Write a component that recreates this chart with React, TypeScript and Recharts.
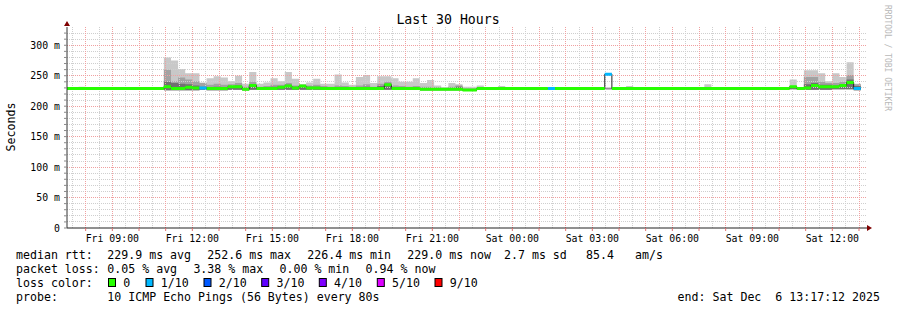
import React from "react";
import { ComposedChart, Area, Line, XAxis, YAxis, ReferenceLine } from "recharts";

// ---- data: 16-minute bins, first bin starts Fri 07:12 (minutes since Fri 00:00) ----
const BIN_FIRST_START_MIN = 432;
const BIN_MINUTES = 16;
const DOMAIN_START_H = 7.3; // Fri 07:18
const DOMAIN_END_H = 37.3; // Sat 13:18

const median = [
  229, 229, 229, 229, 229, 229, 229, 229,
  229, 229, 229, 229, 229, 229, 232, 229,
  229, 231, 230, 230, 229, 229, 229, 232,
  232, 228, 234, 229, 229, 229, 231, 233,
  230, 233, 230, 230, 229, 229, 229, 229,
  229, 229, 229, 229, 229, 235, 229, 229,
  229, 229, 228, 228, 228, 228, 228, 228,
  226.4, 226.4, 229, 229, 229, 229, 229, 229,
  229, 229, 229, 229, 229, 229, 229, 229,
  229, 229, 229, 229, 252.6, 229, 229, 229,
  229, 229, 229, 229, 229, 229, 229, 229,
  229, 229, 229, 229, 229, 229, 229, 229,
  229, 229, 229, 229, 229, 229, 232, 229,
  230, 234, 232, 232, 232, 234, 239, 229,
];

const lossCount = [
  0, 0, 0, 0, 0, 0, 0, 0,
  0, 0, 0, 0, 0, 0, 0, 0,
  0, 0, 0, 1, 0, 0, 0, 0,
  0, 0, 0, 0, 0, 0, 0, 0,
  0, 0, 0, 0, 0, 0, 0, 0,
  0, 0, 0, 0, 0, 0, 0, 0,
  0, 0, 0, 0, 0, 0, 0, 0,
  0, 0, 0, 0, 0, 0, 0, 0,
  0, 0, 0, 0, 1, 0, 0, 0,
  0, 0, 0, 0, 1, 0, 0, 0,
  0, 0, 0, 0, 0, 0, 0, 0,
  0, 0, 0, 0, 0, 0, 0, 0,
  0, 0, 0, 0, 0, 0, 0, 0,
  0, 0, 0, 0, 0, 0, 0, 1,
];

const smokeMin = [
  228, 228, 228, 228, 228, 228, 228, 228,
  228, 228, 228, 228, 228, 228, 226, 226,
  226, 226, 226, 227, 226, 226, 226, 227,
  227, 226, 227, 227, 227, 227, 227, 227,
  227, 227, 227, 227, 227, 227, 227, 227,
  227, 227, 227, 227, 227, 227, 227, 227,
  227, 227, 226, 226, 226, 226, 226, 226,
  225, 225, 228, 228, 228, 228, 228, 228,
  228, 228, 228, 228, 228, 228, 228, 228,
  228, 228, 228, 228, 228, 228, 228, 228,
  228, 228, 228, 228, 228, 228, 228, 228,
  228, 228, 228, 228, 228, 228, 228, 228,
  228, 228, 228, 228, 228, 228, 228, 228,
  227, 227, 227, 227, 228, 228, 228, 226,
];

const smokeDark = [
  229, 229, 229, 229, 229, 229, 229, 229,
  229, 229, 229, 229, 229, 229, 240, 238,
  237, 236, 234, 232, 231, 232, 231, 233,
  234, 230, 236, 230, 231, 232, 233, 235,
  232, 234, 232, 232, 231, 230, 231, 231,
  230, 231, 232, 230, 233, 237, 231, 231,
  230, 231, 230, 230, 229, 229, 230, 232,
  227, 227, 229, 229, 229, 229, 229, 229,
  229, 229, 229, 229, 229, 229, 229, 229,
  229, 229, 229, 229, 229, 229, 229, 229,
  229, 229, 229, 229, 229, 229, 229, 229,
  229, 229, 229, 229, 229, 229, 229, 229,
  229, 229, 229, 229, 229, 229, 231, 229,
  236, 238, 235, 235, 234, 236, 244, 233,
];

const smokeMid = [
  229, 229, 229, 229, 229, 229, 229, 229,
  229, 229, 229, 229, 229, 229, 260, 241,
  247, 244, 241, 238, 235, 237, 235, 236,
  238, 232, 240, 232, 233, 235, 235, 238,
  234, 235, 234, 235, 233, 232, 234, 233,
  232, 234, 236, 232, 237, 240, 234, 233,
  232, 233, 232, 232, 231, 230, 232, 234,
  229, 229, 230, 229, 229, 229, 229, 229,
  229, 229, 229, 229, 229, 229, 229, 229,
  229, 229, 229, 229, 229, 229, 229, 229,
  229, 229, 229, 229, 229, 229, 229, 229,
  229, 229, 229, 229, 229, 229, 229, 229,
  229, 229, 229, 229, 229, 229, 233, 230,
  248, 248, 240, 238, 238, 240, 251, 236,
];

const smokeMax = [
  230, 230, 232, 230, 230, 230, 230, 230,
  230, 230, 230, 231, 231, 230, 280, 275,
  261, 254, 254, 239, 246, 249, 247, 241,
  250, 237, 256, 237, 239, 246, 241, 256,
  245, 236, 239, 245, 237, 237, 252, 239,
  235, 248, 251, 238, 249, 249, 246, 240,
  240, 246, 238, 243, 234, 231, 238, 236,
  232, 232, 234, 230, 230, 233, 230, 230,
  230, 231, 230, 230, 230, 230, 230, 230,
  231, 230, 230, 231, 231, 230, 230, 233,
  231, 231, 230, 230, 230, 230, 230, 230,
  230, 230, 236, 230, 230, 230, 230, 231,
  230, 230, 230, 230, 230, 231, 244, 231,
  259, 259, 254, 241, 254, 248, 272, 237,
];

// x-axis: hours since Fri 00:00
const hourTicks = [8, 9, 10, 11, 12, 13, 14, 15, 16, 17, 18, 19, 20, 21, 22, 23, 24, 25, 26, 27, 28, 29, 30, 31, 32, 33, 34, 35, 36, 37];
const halfHourGrid = [7.5, 8.5, 9.5, 10.5, 11.5, 12.5, 13.5, 14.5, 15.5, 16.5, 17.5, 18.5, 19.5, 20.5, 21.5, 22.5, 23.5, 24.5, 25.5, 26.5, 27.5, 28.5, 29.5, 30.5, 31.5, 32.5, 33.5, 34.5, 35.5, 36.5];
const dayNames = ["Fri", "Sat"];
const yTicks = [0, 10, 20, 30, 40, 50, 60, 70, 80, 90, 100, 110, 120, 130, 140, 150, 160, 170, 180, 190, 200, 210, 220, 230, 240, 250, 260, 270, 280, 290, 300, 310, 320];
const yMajor = [50, 100, 150, 200, 250, 300];

const lossLevels = [0, 1, 2, 3, 4, 5, 9];
const lossLabels = ["0", "1/10", "2/10", "3/10", "4/10", "5/10", "9/10"];
const lossColors = ["#26ff00", "#00b8ff", "#0059ff", "#5e00ff", "#7e00ff", "#dd00ff", "#ff0000"];

const rttStats = ["229.9 ms avg", "252.6 ms max", "226.4 ms min", "229.0 ms now"];
const rttSd = "2.7 ms sd";
const rttAms = ["85.4", "am/s"];
const lossStats = ["0.05 % avg", "3.38 % max", "0.00 % min", "0.94 % now"];
const probeText = "10 ICMP Echo Pings (56 Bytes) every 80s";
const endText = "end: Sat Dec  6 13:17:12 2025";

// ---- table for recharts ----
const rows: any[] = [];
for (let k = 0; k < median.length; k++) {
  const s = Math.max(BIN_FIRST_START_MIN + k * BIN_MINUTES, DOMAIN_START_H * 60) / 60;
  const e = Math.min(BIN_FIRST_START_MIN + (k + 1) * BIN_MINUTES, DOMAIN_END_H * 60) / 60;
  const base: any = {
    med: median[k],
    light: [smokeMin[k], smokeMax[k]],
    mid: [smokeMin[k], smokeMid[k]],
    dark: [smokeMin[k], smokeDark[k]],
  };
  const on: any = {};
  const off: any = {};
  lossLevels.forEach((l) => {
    on["l" + l] = lossCount[k] === l ? median[k] : null;
    off["l" + l] = null;
  });
  rows.push({ t: s, ...base, ...on });
  rows.push({ t: e, ...base, ...on });
  rows.push({ t: e, ...base, ...off });
}

const FONT = "'DejaVu Sans Mono', monospace";
const LEG_FS = 11.6;
const AX_FS = 9.85;

const xLabel = (h: number) =>
  h % 3 === 0 ? `${dayNames[h < 24 ? 0 : 1]} ${String(h % 24).padStart(2, "0")}:00` : "";
const yLabel = (v: number) => (v === 0 ? "0" : v % 50 === 0 ? `${v} m` : "");

const XTick = (props: any) => {
  const { x, y, payload } = props;
  return (
    <text x={x} y={y} dy={7.2} textAnchor="middle" fontFamily={FONT} fontSize={AX_FS} fill="#000">
      {xLabel(payload.value)}
    </text>
  );
};
const YTick = (props: any) => {
  const { x, y, payload } = props;
  return (
    <text x={x} y={y} dy={3.5} textAnchor="end" fontFamily={FONT} fontSize={AX_FS} fill="#000" style={{ whiteSpace: "pre" }}>
      {yLabel(payload.value)}
    </text>
  );
};

export default function App() {
  const legendBase = 258.8;
  const lx = 107.3;
  const boxX = [108.5, 146, 204, 261.7, 319.3, 377.3, 435];
  return (
    <div style={{ position: "relative", width: 897, height: 310, background: "#fff" }}>
      <style>{"body{margin:0;background:#fff}"}</style>
      <ComposedChart
        width={897}
        height={310}
        data={rows}
        margin={{ top: 27, right: 30, left: 27, bottom: 62 }}
      >
        <XAxis
          type="number"
          dataKey="t"
          domain={[DOMAIN_START_H, DOMAIN_END_H]}
          allowDataOverflow
          ticks={hourTicks}
          interval={0}
          height={20}
          tickSize={3}
          tickMargin={3.5}
          axisLine={{ stroke: "#222" }}
          tickLine={{ stroke: "#e07070" }}
          tick={<XTick />}
        />
        <YAxis
          type="number"
          domain={[0, 330]}
          allowDataOverflow
          ticks={yTicks}
          interval={0}
          width={40}
          tickSize={3}
          tickMargin={4}
          axisLine={{ stroke: "#333" }}
          tickLine={{ stroke: "#888" }}
          tick={<YTick />}
        />
        <Area type="linear" dataKey="light" stroke="none" fill="#c8c8c8" fillOpacity={1} isAnimationActive={false} dot={false} activeDot={false} />
        <Area type="linear" dataKey="mid" stroke="none" fill="#a2a2a2" fillOpacity={1} isAnimationActive={false} dot={false} activeDot={false} />
        <Area type="linear" dataKey="dark" stroke="none" fill="#707070" fillOpacity={1} isAnimationActive={false} dot={false} activeDot={false} />
        {halfHourGrid.map((v) => (
          <ReferenceLine key={"hx" + v} x={v} stroke="#cfcfcf" strokeDasharray="1 1" shapeRendering="crispEdges" />
        ))}
        {yTicks.filter((v) => v > 0 && v % 50 !== 0).map((v) => (
          <ReferenceLine key={"hy" + v} y={v} stroke="#cfcfcf" strokeDasharray="1 1" shapeRendering="crispEdges" />
        ))}
        {hourTicks.map((v) => (
          <ReferenceLine key={"mx" + v} x={v} stroke="#f0a0a0" strokeDasharray="1 1" shapeRendering="crispEdges" />
        ))}
        {yMajor.map((v) => (
          <ReferenceLine key={"my" + v} y={v} stroke="#f0a0a0" strokeDasharray="1 1" shapeRendering="crispEdges" />
        ))}
        <Line type="linear" dataKey="med" stroke="#202020" strokeWidth={1} dot={false} activeDot={false} isAnimationActive={false} />
        {lossLevels.map((l, i) => (
          <Line
            key={"loss" + l}
            type="linear"
            dataKey={"l" + l}
            stroke={lossColors[i]}
            strokeWidth={3}
            dot={false}
            activeDot={false}
            connectNulls={false}
            isAnimationActive={false}
          />
        ))}
      </ComposedChart>
      <svg
        width={897}
        height={310}
        style={{ position: "absolute", left: 0, top: 0, pointerEvents: "none" }}
        fontFamily={FONT}
      >
        <polygon points="64,26 70,26 67,21" fill="#7f0000" />
        <polygon points="867,225 867,231 872,228" fill="#7f0000" />
        <text x={448} y={24} textAnchor="middle" fontSize={13.2} fill="#000">Last 30 Hours</text>
        <text transform="translate(14.5,127) rotate(-90)" textAnchor="middle" fontSize={LEG_FS} fill="#000">Seconds</text>
        <text transform="translate(885,5) rotate(90)" fontSize={8} fill="#b8b8b8">RRDTOOL / TOBI OETIKER</text>

        <text x={16} y={legendBase} fontSize={LEG_FS} fill="#000">median rtt:</text>
        {rttStats.map((s, i) => (
          <text key={s} x={lx + i * 100} y={legendBase} fontSize={LEG_FS} fill="#000">{s}</text>
        ))}
        <text x={504} y={legendBase} fontSize={LEG_FS} fill="#000">{rttSd}</text>
        <text x={586} y={legendBase} fontSize={LEG_FS} fill="#000">{rttAms[0]}</text>
        <text x={635} y={legendBase} fontSize={LEG_FS} fill="#000">{rttAms[1]}</text>

        <text x={16} y={legendBase + 14} fontSize={LEG_FS} fill="#000">packet loss:</text>
        {lossStats.map((s, i) => (
          <text key={s} x={lx + i * 86.1} y={legendBase + 14} fontSize={LEG_FS} fill="#000">{s}</text>
        ))}

        <text x={16} y={legendBase + 28} fontSize={LEG_FS} fill="#000">loss color:</text>
        {lossLabels.map((lab, i) => (
          <g key={lab}>
            <rect x={boxX[i]} y={278.5} width={7} height={8} fill={lossColors[i]} stroke="#000" strokeWidth={1} />
            <text x={boxX[i] + 14.8} y={legendBase + 28} fontSize={LEG_FS} fill="#000">{lab}</text>
          </g>
        ))}

        <text x={16} y={legendBase + 42} fontSize={LEG_FS} fill="#000">probe:</text>
        <text x={lx} y={legendBase + 42} fontSize={LEG_FS} fill="#000">{probeText}</text>
        <text x={880} y={legendBase + 42} textAnchor="end" fontSize={LEG_FS} fill="#000" style={{ whiteSpace: "pre" }}>{endText}</text>
      </svg>
    </div>
  );
}
